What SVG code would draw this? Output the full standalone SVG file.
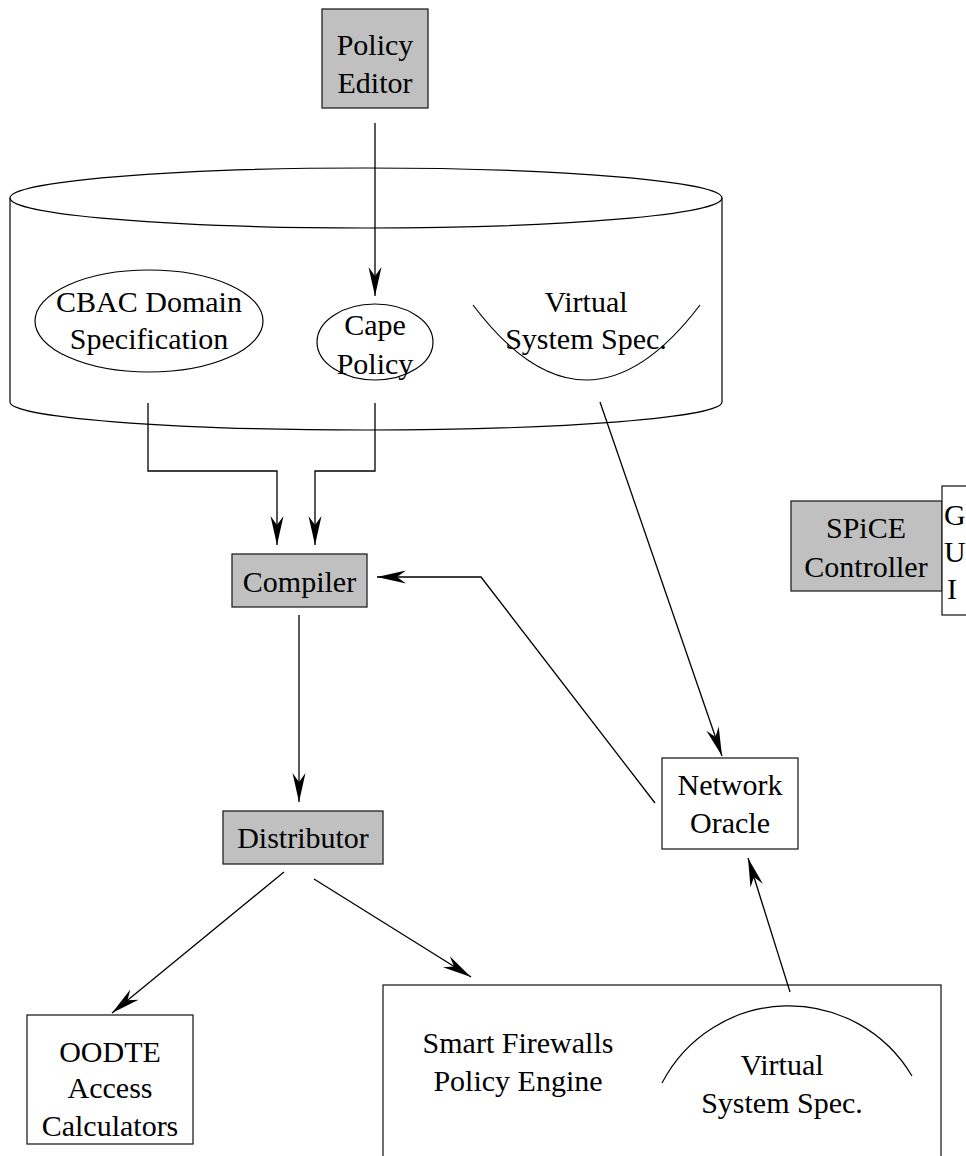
<svg xmlns="http://www.w3.org/2000/svg" width="966" height="1156" viewBox="0 0 966 1156">
<style>
  .t { font-family: "Liberation Serif", "Times New Roman", serif; font-size: 30px; fill: #000; text-anchor: middle; }
  .tl { font-family: "Liberation Serif", "Times New Roman", serif; font-size: 30px; fill: #000; text-anchor: start; }
  .gray { fill: #c0c0c0; stroke: #222; stroke-width: 1.3; }
  .box { fill: #fff; stroke: #222; stroke-width: 1.3; }
  .ln { fill: none; stroke: #000; stroke-width: 1.2; }
  .conn { fill: none; stroke: #000; stroke-width: 1.3; marker-end: url(#ah); }
</style>
<defs>
  <marker id="ah" viewBox="-30 -7 32 14" refX="0" refY="0" markerWidth="32" markerHeight="14" markerUnits="userSpaceOnUse" orient="auto">
    <path d="M0,0 L-29,-6.5 L-20,0 L-29,6.5 Z" fill="#000"/>
  </marker>
</defs>
<rect width="966" height="1156" fill="#fff"/>

<g id="repository">
  <ellipse class="ln" cx="366" cy="198" rx="356" ry="30"/>
  <path class="ln" d="M10 198 L10 402 A356 28 0 0 0 722 402 L722 198"/>
</g>

<g id="policy-editor">
  <rect class="gray" x="322" y="9" width="106" height="99"/>
  <text class="t" x="375" y="55">Policy</text>
  <text class="t" x="375" y="93">Editor</text>
</g>

<g id="cbac-domain">
  <ellipse class="ln" cx="149" cy="321" rx="114" ry="51"/>
  <text class="t" x="149" y="312">CBAC Domain</text>
  <text class="t" x="149" y="349">Specification</text>
</g>

<g id="cape-policy">
  <ellipse class="ln" cx="375" cy="342" rx="58" ry="38"/>
  <text class="t" x="375" y="335">Cape</text>
  <text class="t" x="375" y="374">Policy</text>
</g>

<g id="virtual-spec-top">
  <path class="ln" d="M473 305 Q586 455 700 305"/>
  <text class="t" x="586" y="312">Virtual</text>
  <text class="t" x="586" y="349">System Spec.</text>
</g>

<g id="compiler">
  <rect class="gray" x="232" y="554" width="135" height="53"/>
  <text class="t" x="299.5" y="592">Compiler</text>
</g>

<g id="spice-controller">
  <rect class="gray" x="791" y="501" width="151" height="90"/>
  <text class="t" x="866" y="538">SPiCE</text>
  <text class="t" x="866" y="577">Controller</text>
</g>

<g id="gui">
  <rect class="box" x="942" y="486" width="40" height="129"/>
  <text class="tl" x="944" y="525">G</text>
  <text class="tl" x="944" y="562">U</text>
  <text class="tl" x="947" y="599">I</text>
</g>

<g id="network-oracle">
  <rect class="box" x="662" y="758" width="136" height="91"/>
  <text class="t" x="730" y="795">Network</text>
  <text class="t" x="730" y="833">Oracle</text>
</g>

<g id="distributor">
  <rect class="gray" x="223" y="811" width="160" height="53"/>
  <text class="t" x="303" y="848">Distributor</text>
</g>

<g id="oodte">
  <rect class="box" x="27" y="1015" width="166" height="129"/>
  <text class="t" x="110" y="1062">OODTE</text>
  <text class="t" x="110" y="1098">Access</text>
  <text class="t" x="110" y="1136">Calculators</text>
</g>

<g id="smart-firewalls">
  <rect class="box" x="383" y="985" width="558" height="200"/>
  <text class="t" x="518" y="1053">Smart Firewalls</text>
  <text class="t" x="518" y="1091">Policy Engine</text>
  <path class="ln" d="M662 1083 A143 143 0 0 1 912 1076"/>
  <text class="t" x="782" y="1075">Virtual</text>
  <text class="t" x="782" y="1113">System Spec.</text>
</g>

<g id="connectors">
  <path class="conn" d="M375 123 L375 296"/>
  <path class="conn" d="M148 403 L148 471 L277 471 L277 545"/>
  <path class="conn" d="M375 403 L375 471 L315 471 L315 545"/>
  <path class="conn" d="M600 402 L722 756"/>
  <path class="conn" d="M655 803 L481 577 L377 577"/>
  <path class="conn" d="M299 615 L299 802"/>
  <path class="conn" d="M284 872 L112 1013"/>
  <path class="conn" d="M314 879 L471 977"/>
  <path class="conn" d="M790 992 L748 858"/>
</g>
</svg>
